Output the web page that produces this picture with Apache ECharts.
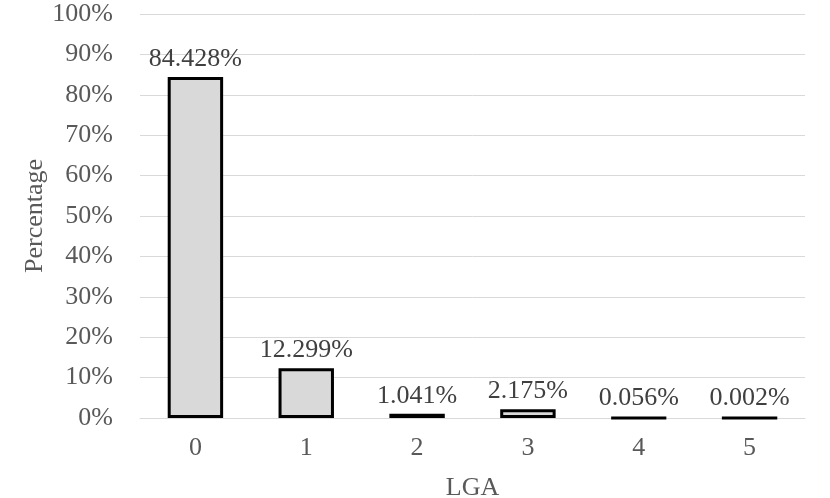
<!DOCTYPE html>
<html>
<head>
<meta charset="utf-8">
<script src="https://cdn.jsdelivr.net/npm/echarts@6/dist/echarts.min.js"></script>
<style>
  html, body { margin: 0; padding: 0; background: #fff; }
  #chart { width: 830px; height: 498px; }
</style>
</head>
<body>
<div id="chart"></div>
<script>
const categories = ['0', '1', '2', '3', '4', '5'];
const percentages = [84.428, 12.299, 1.041, 2.175, 0.056, 0.002];

const font = 'Liberation Serif';
const grey = '#595959';

const chart = echarts.init(document.getElementById('chart'));
const option = {
    animation: false,
    grid: { left: 140, right: 25, top: 14, bottom: 80, outerBoundsMode: 'none' },
    xAxis: {
        type: 'category',
        data: categories,
        name: 'LGA',
        nameLocation: 'middle',
        nameGap: 57,
        nameMoveOverlap: false,
        nameTextStyle: { color: grey, fontFamily: font, fontSize: 26 },
        axisLine: { lineStyle: { color: '#d9d9d9', width: 1 } },
        axisTick: { show: false },
        axisLabel: { color: grey, fontFamily: font, fontSize: 26, margin: 17 }
    },
    yAxis: {
        type: 'value',
        min: 0,
        max: 100,
        interval: 10,
        name: 'Percentage',
        nameLocation: 'middle',
        nameGap: 92,
        nameMoveOverlap: false,
        nameTextStyle: { color: grey, fontFamily: font, fontSize: 26 },
        axisLine: { show: false },
        axisTick: { show: false },
        splitLine: { lineStyle: { color: '#d9d9d9', width: 1 } },
        axisLabel: {
            color: grey, fontFamily: font, fontSize: 26, margin: 27,
            formatter: v => v + '%'
        }
    },
    series: [{
        type: 'bar',
        data: percentages,
        barWidth: '50%',
        itemStyle: { color: '#d9d9d9', borderColor: '#000', borderWidth: 3 },
        label: {
            show: true,
            position: 'top',
            distance: 5,
            color: '#404040',
            fontFamily: font,
            fontSize: 26,
            formatter: p => p.value.toFixed(3) + '%'
        }
    }]
};
chart.setOption(option);
</script>
</body>
</html>
